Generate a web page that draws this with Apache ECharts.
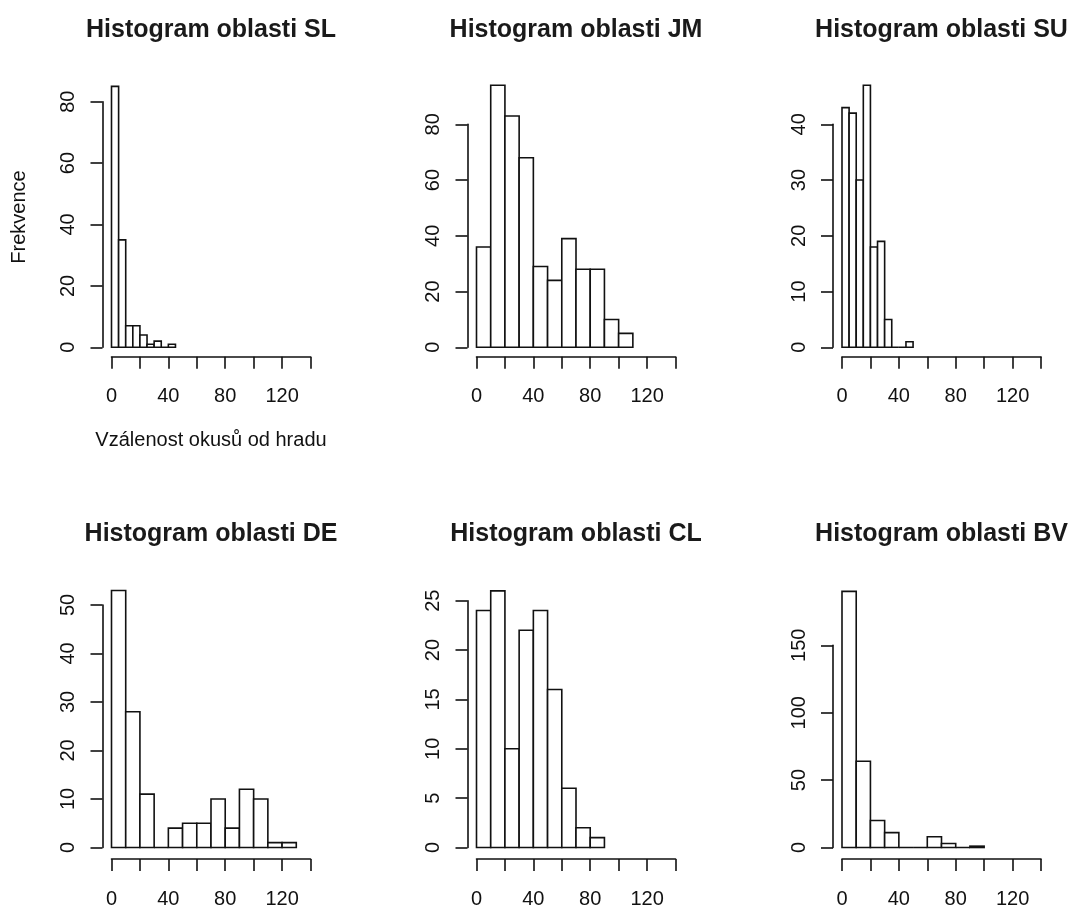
<!DOCTYPE html>
<html>
<head>
<meta charset="utf-8">
<title>Histogramy oblastí</title>
<script src="https://cdn.jsdelivr.net/npm/echarts@6/dist/echarts.min.js"></script>
<style>
  html, body { margin: 0; padding: 0; background: #ffffff; }
  #chart { width: 1070px; height: 909px; }
</style>
</head>
<body>
<div id="chart"></div>
<script>
// Region codes, one histogram per region (row by row)
const regions = ['SL', 'JM', 'SU', 'DE', 'CL', 'BV'];
// Bin width of each histogram (bins start at 0)
const binWidths = [5, 10, 5, 10, 10, 10];
// Frequencies per bin
const countsSL = [85, 35, 7, 7, 4, 1, 2, 0, 1];
const countsJM = [36, 94, 83, 68, 29, 24, 39, 28, 28, 10, 5];
const countsSU = [43, 42, 30, 47, 18, 19, 5, 0, 0, 1];
const countsDE = [53, 28, 11, 0, 4, 5, 5, 10, 4, 12, 10, 1, 1];
const countsCL = [24, 26, 10, 22, 24, 16, 6, 2, 1];
const countsBV = [190, 64, 20, 11, 0, 0, 8, 3, 0, 1];
const allCounts = [countsSL, countsJM, countsSU, countsDE, countsCL, countsBV];
// Y axis: highest tick and tick step for each panel
const yTickMax = [80, 80, 40, 50, 25, 150];
const yTickStep = [20, 20, 10, 10, 5, 50];
// X axis: range, tick step and the ticks that carry a label
const xMin = 0, xMax = 140, xStep = 20;
const xTickLabels = [0, 40, 80, 120];
// Axis titles (shown on the first panel only)
const yAxisTitle = 'Frekvence';
const xAxisTitle = 'Vzálenost okusů od hradu';

// ---- layout (pixels) ----
const FONT = "'Liberation Sans', Arial, Helvetica, sans-serif";
const colLeft = [111.5, 476.5, 842];
const plotWidth = 199;
const rowBase = [347.3, 851];            // pixel of count 0 in each row
const plotTops = [101.7, 124.3, 124.3, 605, 600.7, 645.3]; // pixel of top y tick
const xAxisOffset = [9.5, 11.5];
const xLabelMargin = [30, 30];
const yAxisOffset = 9;
const titleY = [30, 534];
const INK = '#111';

const grids = [], xAxes = [], yAxes = [], series = [], graphics = [];

regions.forEach((reg, i) => {
  const col = i % 3, row = Math.floor(i / 3);
  const top = plotTops[i];
  grids.push({
    left: colLeft[col], top: top, width: plotWidth, height: rowBase[row] - top,
    containLabel: false
  });
  xAxes.push({
    type: 'value', gridIndex: i, min: xMin, max: xMax, interval: xStep,
    position: 'bottom', offset: xAxisOffset[row],
    axisLine: { show: true, onZero: false, lineStyle: { color: INK, width: 1.6 } },
    axisTick: { show: true, length: 12, lineStyle: { color: INK, width: 1.6 } },
    axisLabel: {
      show: true, margin: xLabelMargin[row], fontSize: 20, fontFamily: FONT, color: INK,
      showMinLabel: true, showMaxLabel: true,
      formatter: v => (xTickLabels.indexOf(v) >= 0 ? String(v) : '')
    },
    splitLine: { show: false }
  });
  yAxes.push({
    type: 'value', gridIndex: i, min: 0, max: yTickMax[i], interval: yTickStep[i],
    position: 'left', offset: yAxisOffset,
    axisLine: { show: true, onZero: false, lineStyle: { color: INK, width: 1.6 } },
    axisTick: { show: true, length: 12, lineStyle: { color: INK, width: 1.6 } },
    axisLabel: {
      show: true, rotate: 90, margin: 24, fontSize: 20, fontFamily: FONT, color: INK,
      showMinLabel: true, showMaxLabel: true
    },
    splitLine: { show: false }
  });
  const w = binWidths[i];
  series.push({
    type: 'custom', name: reg, xAxisIndex: i, yAxisIndex: i, clip: false,
    data: allCounts[i].map((c, k) => [k * w, (k + 1) * w, c]),
    renderItem: (params, api) => {
      const p0 = api.coord([api.value(0), 0]);
      const p1 = api.coord([api.value(1), api.value(2)]);
      return {
        type: 'rect',
        shape: { x: p0[0], y: p1[1], width: p1[0] - p0[0], height: p0[1] - p1[1] },
        style: { fill: '#ffffff', stroke: INK, lineWidth: 1.6 }
      };
    }
  });
  graphics.push({
    type: 'text', x: colLeft[col] + plotWidth / 2, y: titleY[row],
    style: {
      text: 'Histogram oblasti ' + reg, fill: '#1a1a1a',
      font: 'bold 25px ' + FONT, align: 'center', verticalAlign: 'middle'
    }
  });
});

// Axis titles of the first panel
graphics.push({
  type: 'text', x: 19, y: 217, rotation: Math.PI / 2,
  style: { text: yAxisTitle, fill: INK, font: '20px ' + FONT, align: 'center', verticalAlign: 'middle' }
});
graphics.push({
  type: 'text', x: colLeft[0] + plotWidth / 2, y: 440,
  style: { text: xAxisTitle, fill: INK, font: '20px ' + FONT, align: 'center', verticalAlign: 'middle' }
});

const chart = echarts.init(document.getElementById('chart'), null, { renderer: 'canvas' });
chart.setOption({
  backgroundColor: '#ffffff',
  animation: false,
  grid: grids,
  xAxis: xAxes,
  yAxis: yAxes,
  series: series,
  graphic: graphics
});
</script>
</body>
</html>
